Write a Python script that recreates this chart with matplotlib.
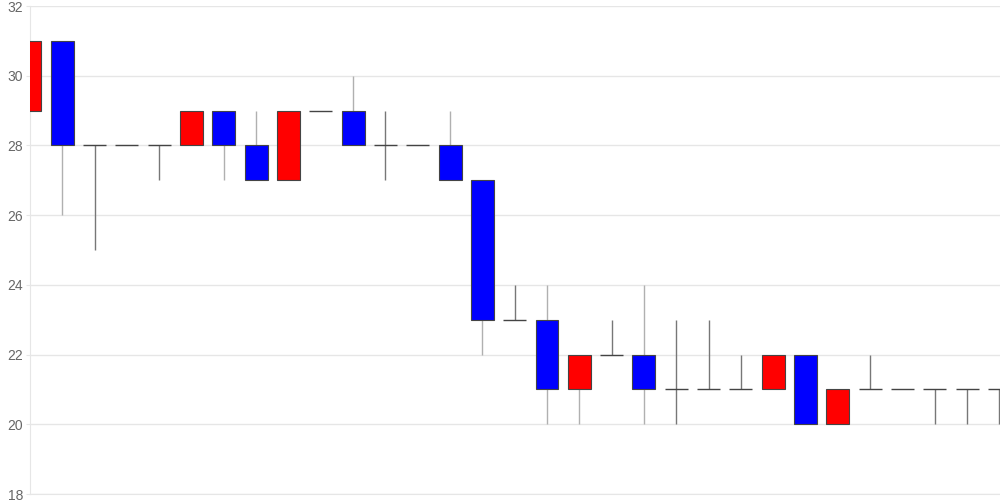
import numpy as np
import matplotlib.pyplot as plt

plt.rcParams['font.family'] = ['Liberation Sans', 'DejaVu Sans']

# OHLC data
opens = [29, 31, 28, 28, 28, 28, 29, 28, 27, 29, 29, 28, 28, 28, 27, 23,
         23, 21, 22, 22, 21, 21, 21, 21, 22, 20, 21, 21, 21, 21, 21]
highs = [31, 31, 28, 28, 28, 29, 29, 29, 29, 29, 30, 29, 28, 29, 27, 24,
         24, 22, 23, 24, 23, 23, 22, 22, 22, 21, 22, 21, 21, 21, 21]
lows = [29, 26, 25, 28, 27, 28, 27, 27, 27, 29, 28, 27, 28, 27, 22, 23,
        20, 20, 22, 20, 20, 21, 21, 21, 20, 20, 21, 21, 20, 20, 20]
closes = [31, 28, 28, 28, 28, 29, 28, 27, 29, 29, 28, 28, 28, 27, 23, 23,
          21, 22, 22, 21, 21, 21, 21, 22, 20, 21, 21, 21, 21, 21, 21]

up_color = '#ff0000'
down_color = '#0000ff'
width = 0.71

fig = plt.figure(figsize=(10, 5), dpi=100)
ax = fig.add_axes([0.03, 0.012, 0.97, 0.976])

x = np.arange(len(opens))
for i in x:
    o, h, l, c = opens[i], highs[i], lows[i], closes[i]
    if o == c:
        ax.vlines(i, l, h, color='#777777', linewidth=1, zorder=2)
        ax.hlines(o, i - width / 2, i + width / 2, color='#444444', linewidth=1, zorder=3)
    else:
        ax.vlines(i, l, h, color='#b0b0b0', linewidth=1, zorder=2)
        col = up_color if c > o else down_color
        ax.bar(i, abs(c - o), width, bottom=min(o, c), color=col,
               edgecolor='#444444', linewidth=0.8, zorder=3)

ax.set_xlim(0, len(opens) - 1 + 0.02)
ax.set_ylim(18, 32)
ax.set_yticks(np.arange(18, 33, 2))
ax.set_xticks([])
ax.grid(axis='y', color='#e6e6e6', linewidth=1, zorder=0)
for s in ['top', 'right']:
    ax.spines[s].set_visible(False)
ax.spines['left'].set_color('#e6e6e6')
ax.spines['bottom'].set_color('#e6e6e6')
ax.tick_params(axis='y', length=3, color='#e6e6e6', labelcolor='#666666',
               labelsize=10, pad=2)

fig.savefig('out.png')
